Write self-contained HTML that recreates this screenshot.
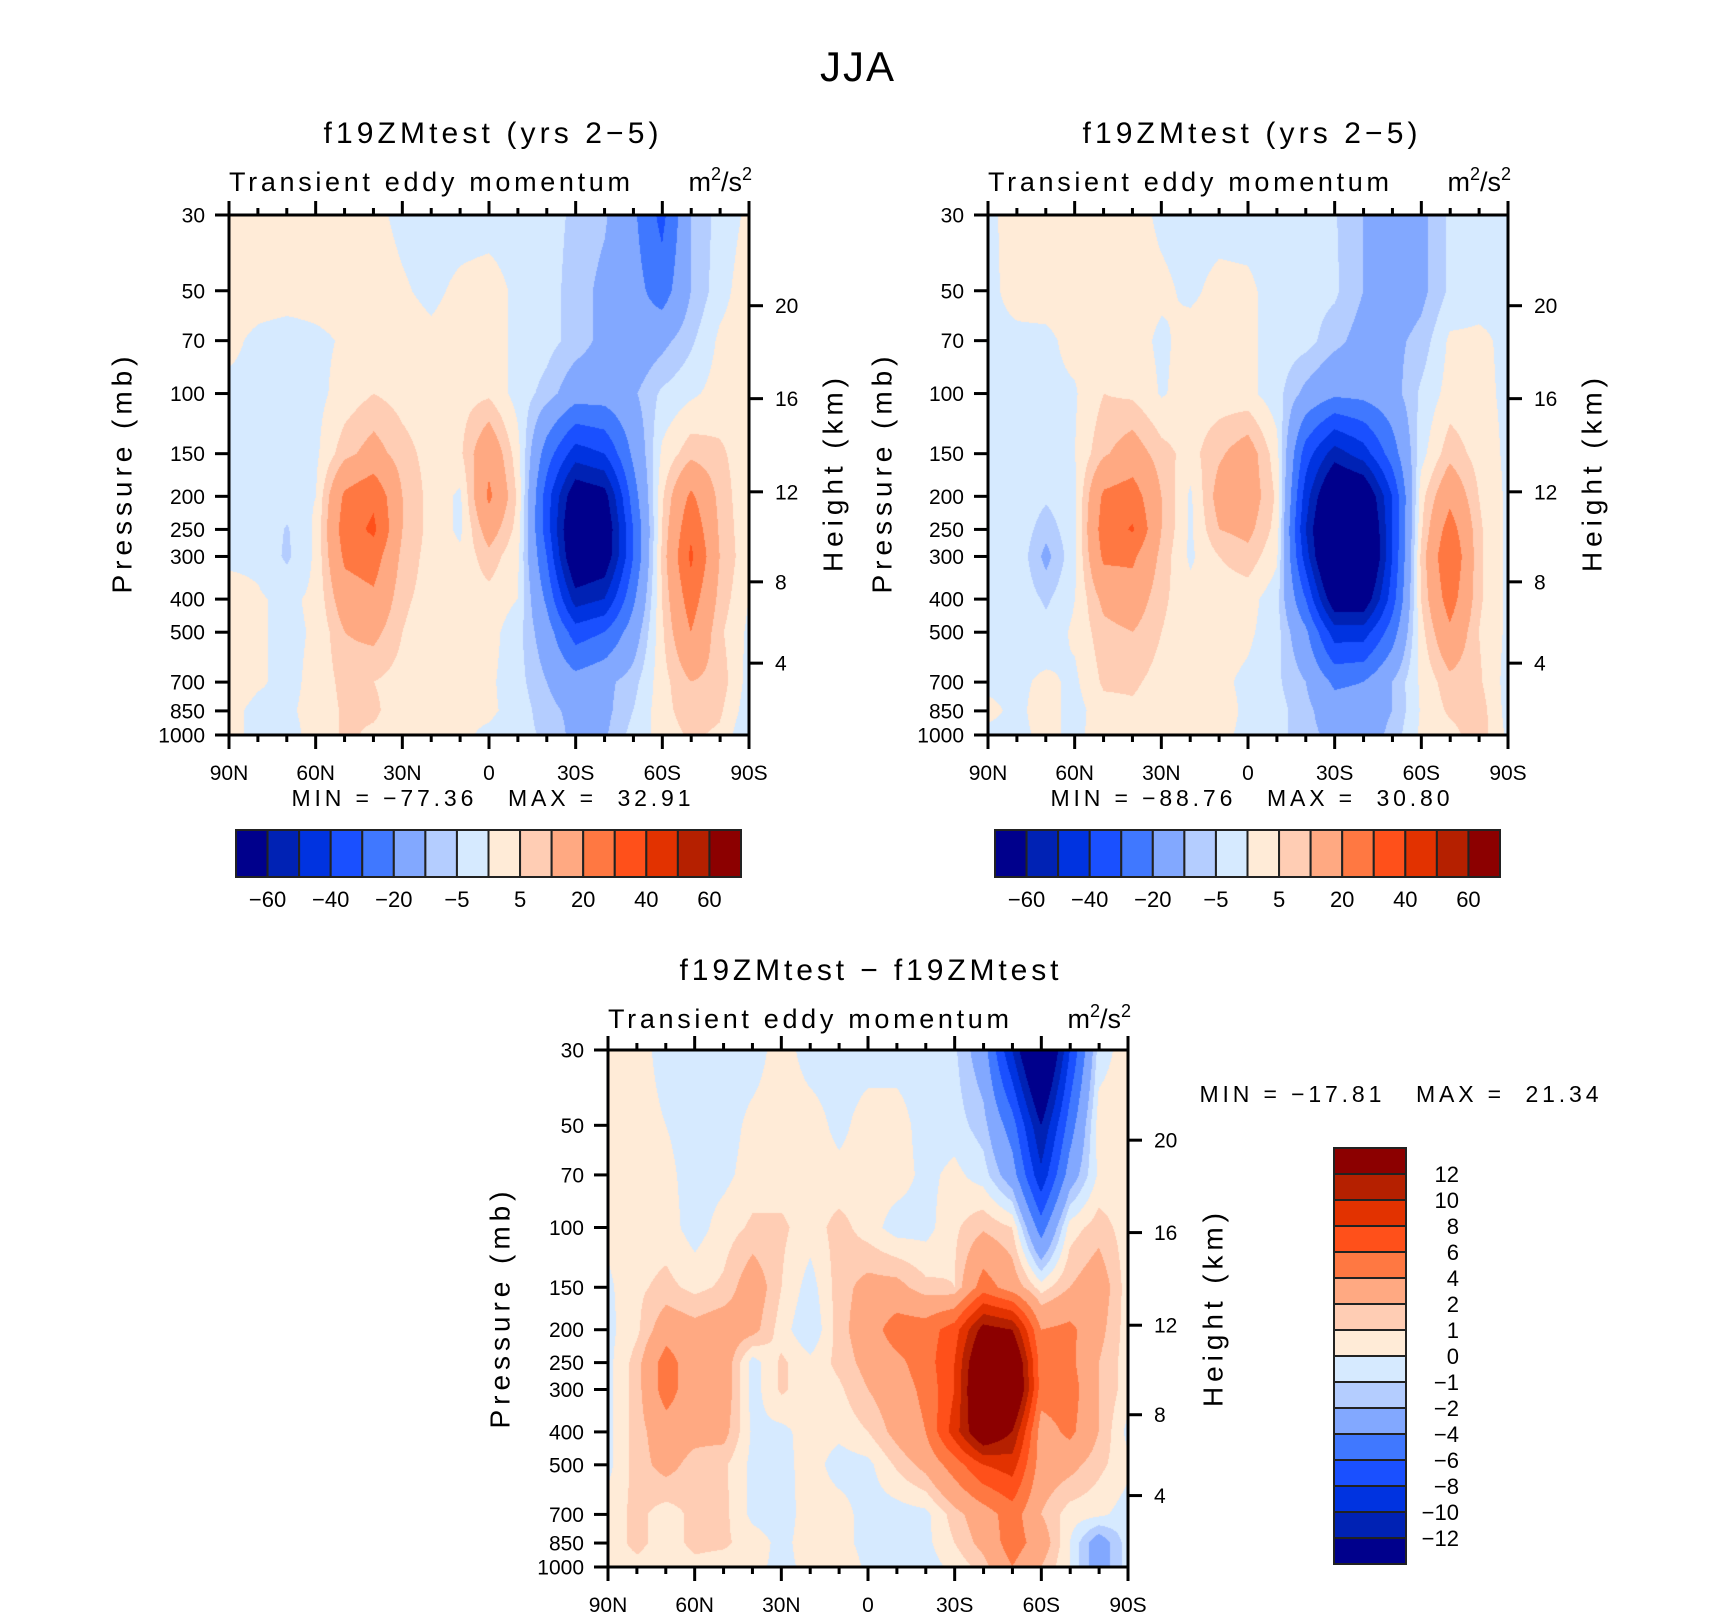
<!DOCTYPE html>
<html><head><meta charset="utf-8">
<style>
body{margin:0;width:1710px;height:1617px;background:#fff;position:relative;overflow:hidden;font-family:"Liberation Sans",sans-serif}
canvas{position:absolute}
svg{position:absolute;left:0;top:0}
text{font-family:"Liberation Sans",sans-serif;fill:#000}
</style></head>
<body>
<canvas id="c1"></canvas>
<canvas id="c2"></canvas>
<canvas id="c3"></canvas>
<svg id="s" width="1710" height="1617">
<text x="857" y="81" font-size="42" text-anchor="middle" textLength="74">JJA</text>
<text x="491" y="143" font-size="30" text-anchor="middle" textLength="335">f19ZMtest (yrs 2−5)</text>
<text x="1250" y="143" font-size="30" text-anchor="middle" textLength="335">f19ZMtest (yrs 2−5)</text>
<text x="869" y="980" font-size="30" text-anchor="middle" textLength="379">f19ZMtest − f19ZMtest</text>
<text x="229" y="191" font-size="27" textLength="401">Transient eddy momentum</text>
<text x="752" y="191" font-size="27" text-anchor="end">m<tspan font-size="18" dy="-11">2</tspan><tspan dy="11">/s</tspan><tspan font-size="18" dy="-11">2</tspan></text>
<text x="988" y="191" font-size="27" textLength="401">Transient eddy momentum</text>
<text x="1511" y="191" font-size="27" text-anchor="end">m<tspan font-size="18" dy="-11">2</tspan><tspan dy="11">/s</tspan><tspan font-size="18" dy="-11">2</tspan></text>
<text x="608" y="1028" font-size="27" textLength="401">Transient eddy momentum</text>
<text x="1131" y="1028" font-size="27" text-anchor="end">m<tspan font-size="18" dy="-11">2</tspan><tspan dy="11">/s</tspan><tspan font-size="18" dy="-11">2</tspan></text>
<text x="491" y="806" font-size="23" text-anchor="middle" textLength="399" xml:space="preserve">MIN = −77.36   MAX =  32.91</text>
<text x="1250" y="806" font-size="23" text-anchor="middle" textLength="399" xml:space="preserve">MIN = −88.76   MAX =  30.80</text>
<text x="1399" y="1102" font-size="23" text-anchor="middle" textLength="399" xml:space="preserve">MIN = −17.81   MAX =  21.34</text>
<text transform="translate(122,475) rotate(-90)" font-size="28" text-anchor="middle" dominant-baseline="central" textLength="237">Pressure (mb)</text>
<text transform="translate(833,475) rotate(-90)" font-size="28" text-anchor="middle" dominant-baseline="central" textLength="194">Height (km)</text>
<text transform="translate(882,475) rotate(-90)" font-size="28" text-anchor="middle" dominant-baseline="central" textLength="237">Pressure (mb)</text>
<text transform="translate(1592,475) rotate(-90)" font-size="28" text-anchor="middle" dominant-baseline="central" textLength="194">Height (km)</text>
<text transform="translate(500,1310) rotate(-90)" font-size="28" text-anchor="middle" dominant-baseline="central" textLength="237">Pressure (mb)</text>
<text transform="translate(1213,1310) rotate(-90)" font-size="28" text-anchor="middle" dominant-baseline="central" textLength="194">Height (km)</text>
</svg>
<script>
const colors=["#00008c","#0022b4","#0033e0","#1a50ff","#4078ff","#82a8ff","#b4cdff","#d6eaff","#ffebd7","#ffcdb4","#ffa982","#ff7842","#ff501a","#e23200","#b52000","#8c0000"];
const levelsAbs=[-60,-50,-40,-30,-20,-10,-5,0,5,10,20,30,40,50,60];
const levelsDiff=[-12,-10,-8,-6,-4,-2,-1,0,1,2,4,6,8,10,12];
const cbLabelsAbs=["−60","−40","−20","−5","5","20","40","60"];
const cbLabelsDiff=["12","10","8","6","4","2","1","0","−1","−2","−4","−6","−8","−10","−12"];
const pressures=[30,50,70,100,150,200,250,300,400,500,700,850,1000];
const pressureLabels=["30","50","70","100","150","200","250","300","400","500","700","850","1000"];
const latLabels=["90N","60N","30N","0","30S","60S","90S"];
const heightKm=[4,8,12,16,20];
const heightPressure=[616,356,194,103.5,55.3];
// rows = pressure levels, cols = 90N..90S every 10 deg
const grid1=[
[2,2,2,2,2,1,-1,-2,-2,-2,-2,-3,-6,-9,-18,-33,-10,-3,1],
[2,2,2,2,2,2,0.5,-1,1,2,-1,-3,-7,-12,-16,-25,-10,-2,3],
[1,-1,-2,-1,0.5,2,2,1,2,2,-1,-3,-7,-12,-16,-12,-6,1,3],
[-1,-1,-2,-1.5,2,5,3,2,3,4,-2,-7,-15,-15,-11,-4,-1,2,3],
[-1,-1,-2,-1,8,13,7,3,4,17,2,-25,-45,-40,-18,1,8,6,2],
[-1,-1,-2,0,22,28,10,3,-1,22,4,-35,-70,-65,-25,4,22,8,1],
[-1,-1,-5.5,1,25,32,10,3,-1,14,3,-35,-78,-72,-30,5,28,9,1],
[-1,-1,-6,1,22,25,8,3,1,8,1,-30,-75,-70,-30,6,32,10,1],
[2,0.5,-1,1,15,18,6,3,2,3,0,-22,-55,-50,-22,5,25,8,0],
[2,0.5,-1,0.5,10,12,5,2,2,2,-3,-15,-35,-30,-15,4,20,6,-1],
[2,0.5,-1,1,7,5,3,1,2,1,-3,-10,-16,-12,-7,3,10,8,-2],
[1,-1,-0.5,1,6,6,2,1,1,1,-2,-8,-12,-12,-5,3,8,6,-3],
[1,-1,-1,1,6,4,2,1,1,-1,-3,-6,-12,-11,-3,2,6,4,-5]];
const grid2=[
[-1,2,2,2,2,2,-1,-2,-2,-2,-2,-3,-4.5,-10,-14,-12,-4,-2,-1],
[-1,1.5,2,2,2,2,1,-1,1.5,1,-2,-3,-4,-10,-15,-12,-4,-2,-1],
[-1,-1,-1,1.5,2,2,-1,2,2,1,-2,-3,-8,-13,-12,-8,1,1,-1],
[-1,-1,-1,-0.5,5,4,-0.5,2,2,1.5,-3,-12,-18,-17,-13,-4,2,1.5,-1],
[-1,-1,-1,0,9,14,7,3,9,14,2,-35,-55,-45,-25,-2,8,3,-1],
[-1,-1,-4,-1,22,25,10,-1,13,15,4,-45,-80,-75,-40,3,17,5,-1],
[-1,-1,-8,-1,25,31,10,-1,10,12,3,-50,-90,-85,-40,4,25,6,-1],
[-1,-1,-12,-1,22,22,8,-1,5,8,1,-45,-90,-88,-40,6,30,6,-1],
[-1,-1,-6,0,12,15,6,2,2,2,-3,-30,-70,-70,-35,5,25,6,-1],
[-1,-1,-3,1,8,10,5,2,2,1,-3,-18,-45,-45,-25,3,18,5,-1],
[-1,-1,1,-1,6,6,3,2,1,-1,-4,-10,-22,-20,-10,1,8,6,-2],
[1,-1,2,-2,3,4,2,1,2,-1,-3,-8,-15,-15,-10,0.5,6,8,-2],
[-1,-1,1,-1,2,4,3,1,1,-1,-3,-8,-12,-15,-8,1,3,8,-1]];
const grid3=[
[0.5,0.5,-0.5,-0.5,-0.5,-0.5,0.5,-0.5,-0.5,-0.5,-0.5,-0.5,-0.8,-3,-10,-18,-8,-0.5,0.5],
[0.5,0.5,0,-0.5,-0.5,0.3,0.5,0.5,-0.3,0.5,0.5,-0.5,-0.5,-1.5,-5,-12,-5,0.5,0.5],
[0.5,0.5,0.3,-0.5,-0.3,0.5,0.5,0.5,0.3,0.5,0.5,-0.3,0.3,-0.5,-3,-9.5,-3,0.2,0.5],
[0.3,0.5,0.5,-0.5,0.5,1.2,1.2,0.5,1.4,0.5,-0.5,-0.4,0.8,1.8,1,-5,0.5,1.5,0.5],
[-0.2,0.8,1.3,0.7,1.2,3,1,-0.5,1.5,2.5,2.5,1.3,1,5,3,0.5,2,3,0.5],
[-0.3,0.8,3,2.5,3,2.5,0.5,-1,1.5,3,5,5,7,13,12,4,4.5,2.5,0.5],
[-0.3,1.5,5,2.5,3,-0.5,1.2,0.3,1.3,2.5,3.5,5,8,16,16,5,4.5,2,0.5],
[-0.3,1.5,5,2.5,3,-0.5,1.2,0.3,0.8,2,3,4.5,8,17,17,5,5,2,0.5],
[-0.3,1.5,3,2.5,2.5,-0.2,-0.3,0.5,0.3,1,2.5,4,9,15,12,3,4.5,2,-0.3],
[-0.3,1.5,2.5,1.5,1.2,-0.3,-0.4,0.5,-0.5,-0.3,1.2,2.5,5,8,9,3,2.5,1.3,0.3],
[0.5,1.3,0.5,1.3,1.3,-0.3,-0.5,0.5,0.5,-0.5,-0.5,-0.3,1.5,3,5,2,0.5,0.3,-0.5],
[0.5,1.3,0.5,1.3,1.2,0.5,-0.3,0.5,0.5,-0.5,-0.5,-0.3,1,2.5,5,3,0,-3,-0.5],
[0.5,0.7,0.3,0.7,0.5,0.3,-0.3,0.3,1,-0.3,-0.5,-0.5,0.3,1.5,4,2,0,-3,-0.5]];

const NS="http://www.w3.org/2000/svg";
const svg=document.getElementById('s');
const LP0=Math.log(30),LP1=Math.log(1000);
function yOfP(p,y0,h){return y0+(Math.log(p)-LP0)/(LP1-LP0)*h;}
function xOfLat(i,x0,w){return x0+i/18*w;}
function hex(c){return [parseInt(c.substr(1,2),16),parseInt(c.substr(3,2),16),parseInt(c.substr(5,2),16)];}
const rgb=colors.map(hex);
function level(v,lev){let k=0;while(k<lev.length&&v>=lev[k])k++;return k;}
function mk(tag,attrs,parent){const e=document.createElementNS(NS,tag);for(const k in attrs)e.setAttribute(k,attrs[k]);(parent||svg).appendChild(e);return e;}
function sample(grid,fi,p){
  const lp=Math.log(p);let j=0;
  while(j<pressures.length-2&&Math.log(pressures[j+1])<lp)j++;
  let t=(lp-Math.log(pressures[j]))/(Math.log(pressures[j+1])-Math.log(pressures[j]));
  t=Math.max(0,Math.min(1,t));
  const i=Math.min(17,Math.floor(fi));const s=fi-i;
  const a=grid[j][i]*(1-s)+grid[j][i+1]*s;
  const b=grid[j+1][i]*(1-s)+grid[j+1][i+1]*s;
  return a*(1-t)+b*t;
}
function drawField(id,grid,lev,x0,y0,w,h){
  const c=document.getElementById(id);c.width=w;c.height=h;
  c.style.left=x0+'px';c.style.top=y0+'px';
  const ctx=c.getContext('2d');const im=ctx.createImageData(w,h);
  for(let py=0;py<h;py++){
    const p=30*Math.pow(1000/30,py/(h-1));
    for(let px=0;px<w;px++){
      const v=sample(grid,px/(w-1)*18,p);
      const col=rgb[level(v,lev)];const o=(py*w+px)*4;
      im.data[o]=col[0];im.data[o+1]=col[1];im.data[o+2]=col[2];im.data[o+3]=255;
    }
  }
  ctx.putImageData(im,0,0);
}
function drawAxes(name,x0,y0,w,h){
  const g=mk('g',{});
  
  
  for(let d=0;d<=18;d++){
    const x=xOfLat(d,x0,w);const L=(d%3===0)?14:7;
    const t1=mk('line',{x1:x,x2:x,y1:y0+h,y2:y0+h+L,stroke:'#000','stroke-width':3},g);
    
    
    const t2=mk('line',{x1:x,x2:x,y1:y0,y2:y0-L,stroke:'#000','stroke-width':3},g);
    
    
  }
  latLabels.forEach((s,k)=>{
    const t=mk('text',{x:xOfLat(k*3,x0,w),y:y0+h+45,'font-size':21,'text-anchor':'middle'},g);t.textContent=s;
    
    
  });
  pressures.forEach((p,k)=>{
    const y=yOfP(p,y0,h);
    const l=mk('line',{x1:x0-14,x2:x0,y1:y,y2:y,stroke:'#000','stroke-width':3},g);
    
    
    const t=mk('text',{x:x0-24,y:y+7.5,'font-size':21,'text-anchor':'end'},g);t.textContent=pressureLabels[k];
    
    
  });
  heightKm.forEach((z,k)=>{
    const y=yOfP(heightPressure[k],y0,h);
    const l=mk('line',{x1:x0+w,x2:x0+w+14,y1:y,y2:y,stroke:'#000','stroke-width':3},g);
    
    
    const t=mk('text',{x:x0+w+26,y:y+7.5,'font-size':21},g);t.textContent=String(z);
    
    
  });
  const r=mk('rect',{x:x0,y:y0,width:w,height:h,fill:'none',stroke:'#000','stroke-width':3},g);
  
  
}
function hColorbar(name,x0,y0,w,h,labels){
  const g=mk('g',{});
  
  
  const bw=w/16;
  colors.forEach((c,k)=>{
    const r=mk('rect',{x:x0+k*bw,y:y0,width:bw,height:h,fill:c,stroke:'#222','stroke-width':2},g);
    
    
  });
  labels.forEach((s,k)=>{
    const t=mk('text',{x:x0+(1+2*k)*bw,y:y0+h+30,'font-size':22,'text-anchor':'middle'},g);t.textContent=s;
    
    
  });
}
function vColorbar(name,x0,y0,w,h,labels){
  const g=mk('g',{});
  
  
  const bh=h/16;
  colors.forEach((c,k)=>{
    const r=mk('rect',{x:x0,y:y0+(15-k)*bh,width:w,height:bh,fill:c,stroke:'#222','stroke-width':2},g);
    
    
  });
  labels.forEach((s,k)=>{
    const t=mk('text',{x:x0+w+53,y:y0+(k+1)*bh+8,'font-size':22,'text-anchor':'end'},g);t.textContent=s;
    
    
  });
}
drawField('c1',grid1,levelsAbs,229,215,520,520);
drawField('c2',grid2,levelsAbs,988,215,520,520);
drawField('c3',grid3,levelsDiff,608,1050,520,517);
drawAxes('plot1',229,215,520,520);
drawAxes('plot2',988,215,520,520);
drawAxes('diff-plot',608,1050,520,517);
hColorbar('plot1-colorbar',236,830,505,47,cbLabelsAbs);
hColorbar('plot2-colorbar',995,830,505,47,cbLabelsAbs);
vColorbar('diff-colorbar',1334,1148,72,416,cbLabelsDiff);
</script>
</body></html>
